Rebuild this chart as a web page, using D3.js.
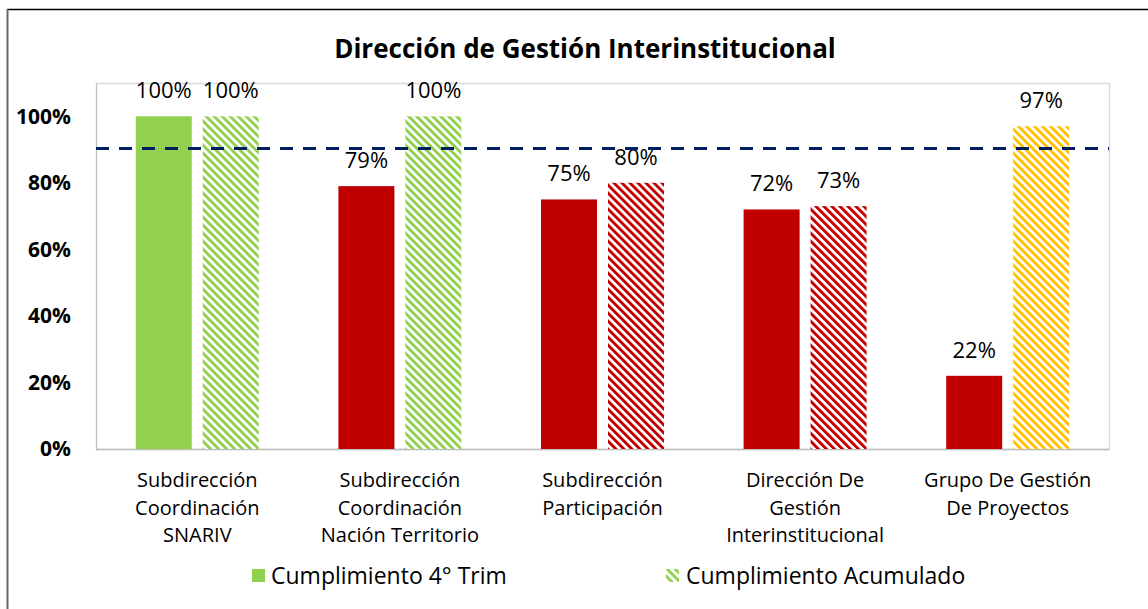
<!DOCTYPE html>
<html>
<head>
<meta charset="utf-8">
<script src="https://cdn.jsdelivr.net/npm/d3@7"></script>
<style>
  html, body { margin: 0; padding: 0; background: #fff; }
  svg { display: block; font-family: "Open Sans", Lato, sans-serif; font-variant-ligatures: none; }
</style>
</head>
<body>
<div id="chart"></div>
<script>
// chart data
const categories = [
  ['Subdirección', 'Coordinación', 'SNARIV'],
  ['Subdirección', 'Coordinación', 'Nación Territorio'],
  ['Subdirección', 'Participación'],
  ['Dirección De', 'Gestión', 'Interinstitucional'],
  ['Grupo De Gestión', 'De Proyectos']
];
const seriesNames = ['Cumplimiento 4° Trim', 'Cumplimiento Acumulado'];
const trimValues = [1.00, 0.79, 0.75, 0.72, 0.22];
const acumValues = [1.00, 1.00, 0.80, 0.73, 0.97];
const yTicks = [0, 0.2, 0.4, 0.6, 0.8, 1.0];
const target = 0.9;
const title = 'Dirección de Gestión Interinstitucional';

const width = 1148, height = 609;
const plot = { left: 96, right: 1109, top: 83, bottom: 449 };

// traffic-light colouring
const colorFor = v => v >= 1 ? '#92D050' : (v >= target ? '#FFC000' : '#C00000');

const svg = d3.select('#chart').append('svg')
  .attr('width', width)
  .attr('height', height);

// hatch patterns for the cumulative series
const defs = svg.append('defs');
['#92D050', '#C00000', '#FFC000'].forEach(c => {
  const p = defs.append('pattern')
    .attr('id', 'hatch' + c.slice(1))
    .attr('patternUnits', 'userSpaceOnUse')
    .attr('width', 5.66)
    .attr('height', 5.66)
    .attr('patternTransform', 'rotate(-45)');
  p.append('rect').attr('width', 5.66).attr('height', 5.66).attr('fill', '#fff');
  p.append('rect').attr('width', 2.9).attr('height', 5.66).attr('fill', c);
});

// outer chart frame
svg.append('line').attr('x1', 7).attr('x2', width).attr('y1', 9.5).attr('y2', 9.5)
  .attr('stroke', '#000').attr('stroke-width', 1.5);
svg.append('line').attr('x1', 7.5).attr('x2', 7.5).attr('y1', 9).attr('y2', height)
  .attr('stroke', '#666').attr('stroke-width', 2);

// title
svg.append('text')
  .attr('x', 585).attr('y', 58)
  .attr('text-anchor', 'middle')
  .attr('font-size', '26px')
  .attr('font-weight', 'bold')
  .attr('fill', '#000')
  .text(title);

const x0 = d3.scaleBand()
  .domain(d3.range(categories.length))
  .range([plot.left, plot.right])
  .paddingInner(0.393)
  .paddingOuter(0.1965);

const x1 = d3.scaleBand()
  .domain([0, 1])
  .range([0, x0.bandwidth()])
  .paddingInner(0.164);

const y = d3.scaleLinear()
  .domain([0, 1.1])
  .range([plot.bottom, plot.top]);

// plot area border
svg.append('rect')
  .attr('x', plot.left + 0.5).attr('y', plot.top + 0.5)
  .attr('width', plot.right - plot.left).attr('height', plot.bottom - plot.top)
  .attr('fill', 'none').attr('stroke', '#d9d9d9').attr('stroke-width', 1.5);

// y axis
const yAxis = svg.append('g')
  .attr('transform', `translate(${plot.left},0)`)
  .call(d3.axisLeft(y).tickValues(yTicks).tickFormat(d3.format('.0%')).tickSize(0).tickPadding(25));
yAxis.select('.domain').attr('stroke', '#bfbfbf');
yAxis.selectAll('text')
  .attr('font-size', '21px')
  .attr('font-weight', 'bold')
  .attr('fill', '#000')
  .attr('font-family', '"Open Sans", Lato, sans-serif');

// x axis line
svg.append('line')
  .attr('x1', plot.left).attr('x2', plot.right)
  .attr('y1', y(0) + 0.5).attr('y2', y(0) + 0.5)
  .attr('stroke', '#bfbfbf').attr('stroke-width', 1.5);

// bars
const rows = categories.map((c, i) => [
  { i, s: 0, v: trimValues[i] },
  { i, s: 1, v: acumValues[i] }
]);

const groups = svg.selectAll('g.cat')
  .data(rows)
  .enter()
  .append('g')
  .attr('class', 'cat')
  .attr('transform', (d, i) => `translate(${x0(i)},0)`);

groups.selectAll('rect')
  .data(d => d)
  .enter()
  .append('rect')
  .attr('x', d => x1(d.s))
  .attr('y', d => y(d.v))
  .attr('width', x1.bandwidth())
  .attr('height', d => y(0) - y(d.v))
  .attr('fill', d => d.s === 0 ? colorFor(d.v) : `url(#hatch${colorFor(d.v).slice(1)})`);

groups.selectAll('text.lbl')
  .data(d => d)
  .enter()
  .append('text')
  .attr('class', 'lbl')
  .attr('x', d => x1(d.s) + x1.bandwidth() / 2)
  .attr('y', d => y(d.v) - 18)
  .attr('text-anchor', 'middle')
  .attr('font-size', '22px')
  .attr('fill', '#000')
  .text(d => d3.format('.0%')(d.v));

// target line
svg.append('line')
  .attr('x1', plot.left).attr('x2', plot.right)
  .attr('y1', y(target) - 1).attr('y2', y(target) - 1)
  .attr('stroke', '#002060')
  .attr('stroke-width', 3)
  .attr('stroke-dasharray', '13,10');

// category labels
const catLabels = svg.selectAll('text.cat')
  .data(categories)
  .enter()
  .append('text')
  .attr('class', 'cat')
  .attr('text-anchor', 'middle')
  .attr('font-size', '20px')
  .attr('fill', '#000');
catLabels.selectAll('tspan')
  .data((d, i) => d.map(line => ({ line, i })))
  .enter()
  .append('tspan')
  .attr('x', d => x0(d.i) + x0.bandwidth() / 2)
  .attr('y', (d, j) => 487 + j * 27.5)
  .text(d => d.line);

// legend
const legend = [
  { name: seriesNames[0], fill: colorFor(1), x: 252, textX: 271 },
  { name: seriesNames[1], fill: 'url(#hatch92D050)', x: 666, textX: 686 }
];
const lg = svg.selectAll('g.legend')
  .data(legend)
  .enter()
  .append('g')
  .attr('class', 'legend');
lg.append('rect')
  .attr('x', d => d.x).attr('y', 569)
  .attr('width', 13).attr('height', 13)
  .attr('fill', d => d.fill);
lg.append('text')
  .attr('x', d => d.textX).attr('y', 584)
  .attr('font-size', '23px')
  .attr('fill', '#000')
  .text(d => d.name);
</script>
</body>
</html>
